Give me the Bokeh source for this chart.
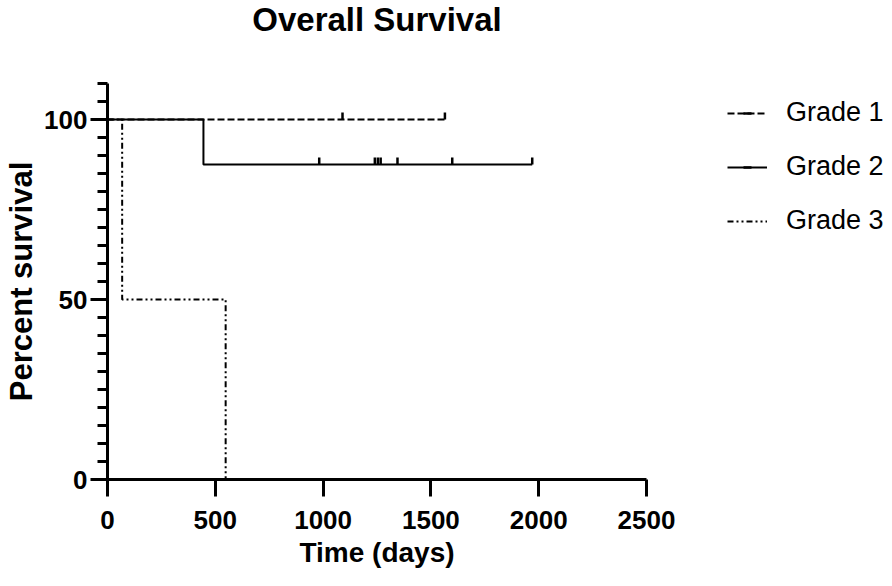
from bokeh.plotting import figure
from bokeh.models import Range1d, FixedTicker, Legend, LegendItem, Title
from bokeh.embed import file_html
from bokeh.resources import INLINE
import math

# ---------------- data ----------------
title_text = "Overall Survival"
x_label = "Time (days)"
y_label = "Percent survival"
x_ticks = [0, 500, 1000, 1500, 2000, 2500]
y_ticks = [0, 50, 100]
y_minor_ticks = [0, 5, 10, 15, 20, 25, 30, 35, 40, 45, 50, 55, 60, 65, 70, 75, 80, 85, 90, 95, 100, 105, 110]

group_names = ["Grade 1", "Grade 2", "Grade 3"]

g1_time = [0, 1565]
g1_surv = [100, 100]
g1_cens_time = [1090, 1565]
g1_cens_surv = [100, 100]

g2_time = [0, 445, 1970]
g2_surv = [100, 87.5, 87.5]
g2_cens_time = [982, 1240, 1254, 1267, 1345, 1599, 1970]
g2_cens_surv = [87.5, 87.5, 87.5, 87.5, 87.5, 87.5, 87.5]

g3_time = [0, 68, 548]
g3_surv = [100, 50, 0]
g3_cens_time = []
g3_cens_surv = []

# ---------------- layout ----------------
FONT = "Liberation Sans"
FRAME_W, FRAME_H = 539, 396
Y_MAX = 110
TICK_PX = 7
px_per_unit = FRAME_H / Y_MAX
lift = TICK_PX / 2 / px_per_unit

p = figure(frame_width=FRAME_W, frame_height=FRAME_H,
           x_range=Range1d(0, 2500), y_range=Range1d(0, Y_MAX),
           output_backend="svg", toolbar_location=None,
           min_border_left=107, min_border_right=246, min_border_top=83, min_border_bottom=107,
           title=title_text)

p.outline_line_color = None
p.grid.visible = False
p.background_fill_color = "white"

p.title.text_font = FONT
p.title.text_font_size = "33px"
p.title.text_font_style = "bold"
p.title.text_color = "black"
p.title.align = "center"
p.title.vertical_align = "top"
p.title.standoff = 0

# empty spacer between the frame and the title (keeps the title near the top edge)
spacer = Title(text=" ", text_font=FONT, text_font_size="10px", standoff=31)
p.add_layout(spacer, "above")

for ax in (p.xaxis[0], p.yaxis[0]):
    ax.axis_line_width = 3
    ax.axis_line_color = "black"
    ax.major_tick_line_width = 3
    ax.minor_tick_line_width = 3
    ax.major_tick_line_color = "black"
    ax.minor_tick_line_color = "black"
    ax.major_tick_in = 0
    ax.minor_tick_in = 0
    ax.major_tick_out = 17
    ax.major_label_text_font = FONT
    ax.major_label_text_font_style = "bold"
    ax.major_label_text_font_size = "26px"
    ax.major_label_text_color = "black"
    ax.axis_label_text_font = FONT
    ax.axis_label_text_font_style = "bold"
    ax.axis_label_text_color = "black"

p.xaxis.axis_label = x_label
p.yaxis.axis_label = y_label
p.xaxis.axis_label_text_font_size = "28px"
p.yaxis.axis_label_text_font_size = "31px"
p.xaxis.ticker = FixedTicker(ticks=x_ticks, minor_ticks=[])
p.yaxis.ticker = FixedTicker(ticks=y_ticks, minor_ticks=y_minor_ticks)
p.yaxis.minor_tick_out = 10
p.xaxis.major_label_standoff = 14
p.xaxis.axis_label_standoff = 5
p.yaxis.major_label_standoff = 3
p.yaxis.axis_label_standoff = 2

# ---------------- curves ----------------
styles = [
    dict(line_dash="7 3", line_width=2),
    dict(line_dash="solid", line_width=2),
    dict(line_dash="6 3 2 3 2 3", line_width=2),
]
times = [g1_time, g2_time, g3_time]
survs = [g1_surv, g2_surv, g3_surv]
ctimes = [g1_cens_time, g2_cens_time, g3_cens_time]
csurvs = [g1_cens_surv, g2_cens_surv, g3_cens_surv]

line_rs, cens_rs = [], []
for i in range(3):
    lr = p.step(times[i], survs[i], mode="after", line_color="black", **styles[i])
    line_rs.append(lr)
for i in range(3):
    cr = p.scatter([t for t in ctimes[i]], [s + lift for s in csurvs[i]], marker="dash",
                   angle=math.pi / 2, size=TICK_PX, line_color="black", line_width=2.5)
    cens_rs.append(cr)

# draw solid Grade 2 on top of overlapping segments
p.renderers = [line_rs[0], line_rs[2], line_rs[1]] + cens_rs

items = [LegendItem(label=group_names[i], renderers=[line_rs[i], cens_rs[i]]) for i in range(3)]
legend = Legend(items=items, location=(81, 243),
                label_text_font=FONT, label_text_font_size="27px", label_text_color="black",
                glyph_width=40, glyph_height=20, label_standoff=19, spacing=23,
                padding=0, margin=0, border_line_color=None, background_fill_alpha=0)
p.add_layout(legend, "right")

open("out.html", "w").write(file_html(p, INLINE))
